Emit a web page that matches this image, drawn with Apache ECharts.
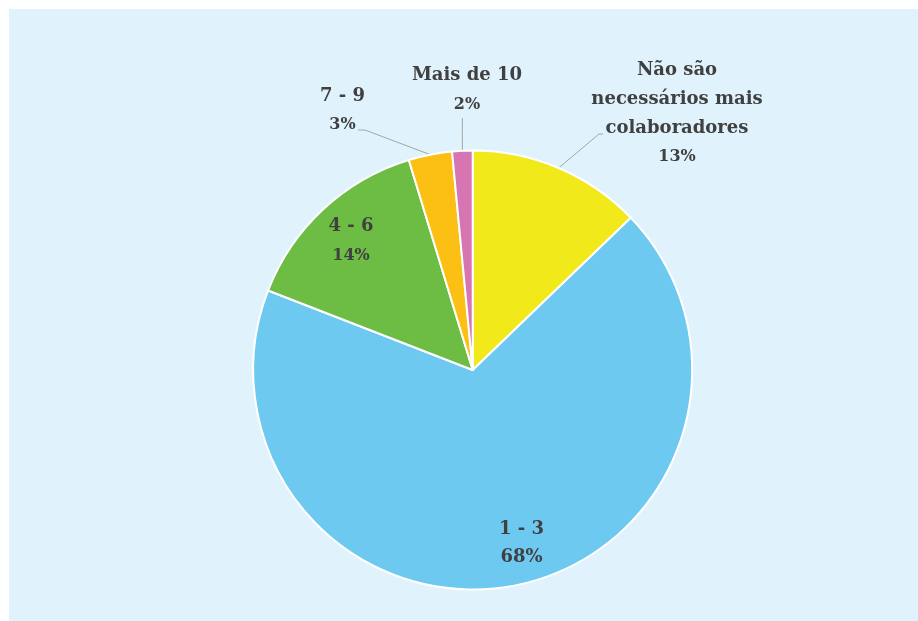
<!DOCTYPE html>
<html>
<head>
<meta charset="utf-8">
<script src="https://cdn.jsdelivr.net/npm/echarts@6/dist/echarts.min.js"></script>
<style>
  html, body { margin: 0; padding: 0; background: #ffffff; }
  #chart { width: 918px; height: 621px; }
</style>
</head>
<body>
<div id="chart"></div>
<script>
// ---- data ----
const categories = ['Não são\nnecessários mais\ncolaboradores', '1 - 3', '4 - 6', '7 - 9', 'Mais de 10'];
const shares = [12.8, 68.1, 14.4, 3.2, 1.5];
const percentLabels = ['13%', '68%', '14%', '3%', '2%'];

// ---- styling / layout (not data) ----
const colors = ['#f2e91b', '#6ec9f1', '#6dbd45', '#fcbf14', '#d675b2'];
const labelSpots = [
  { x: 677, y: 113.5, elbow: [599, 134], end: [603, 134] },
  { x: 521.5, y: 543 },
  { x: 351, y: 241 },
  { x: 342.5, y: 110.5, elbow: [365, 130], end: [358, 130] },
  { x: 467, y: 90, vertical: 118 }
];
const insideIdx = [1, 2];

const chart = echarts.init(document.getElementById('chart'));
const FONT = 'DejaVu Serif';

const data = categories.map((c, i) => {
  const inside = insideIdx.indexOf(i) >= 0;
  return {
    name: c,
    value: shares[i],
    itemStyle: { color: colors[i] },
    label: { position: inside ? 'inside' : 'outside' },
    labelLine: { show: !inside }
  };
});

chart.setOption({
  backgroundColor: '#ffffff',
  animation: false,
  graphic: [{
    type: 'rect', z: -10, silent: true,
    shape: { x: 9, y: 9, width: 909, height: 612 },
    style: { fill: '#e0f2fb' }
  }],
  series: [{
    type: 'pie',
    center: [472.7, 370],
    radius: [0, 219.5],
    startAngle: 90,
    clockwise: true,
    avoidLabelOverlap: false,
    itemStyle: { borderColor: '#ffffff', borderWidth: 2 },
    emphasis: { disabled: true },
    data: data,
    label: {
      show: true,
      formatter: p => {
        const i = p.dataIndex;
        const big = i === 1;
        const lines = categories[i].split('\n').map(s => '{n|' + s + '}');
        lines.push('{' + (big ? 'pb' : 'p') + '|' + percentLabels[i] + '}');
        return lines.join('\n');
      },
      rich: {
        n: { fontFamily: FONT, fontWeight: 'bold', fontSize: 18, lineHeight: 29, color: '#404040', align: 'center' },
        p: { fontFamily: FONT, fontWeight: 'bold', fontSize: 16, lineHeight: 29, color: '#404040', align: 'center' },
        pb: { fontFamily: FONT, fontWeight: 'bold', fontSize: 18, lineHeight: 27, color: '#404040', align: 'center' }
      }
    },
    labelLine: {
      show: true,
      length: 20, length2: 5,
      lineStyle: { color: '#a6a6a6', width: 1 }
    },
    labelLayout: params => {
      const s = labelSpots[params.dataIndex];
      const out = { x: s.x, y: s.y, align: 'center', verticalAlign: 'middle' };
      const pts = params.labelLinePoints;
      if (pts && pts.length) {
        const p0 = pts[0];
        if (s.vertical != null) {
          out.labelLinePoints = [[p0[0], p0[1]], [p0[0], (p0[1] + s.vertical) / 2], [p0[0], s.vertical]];
        } else if (s.elbow) {
          out.labelLinePoints = [[p0[0], p0[1]], s.elbow, s.end];
        }
      }
      return out;
    }
  }]
});
</script>
</body>
</html>
